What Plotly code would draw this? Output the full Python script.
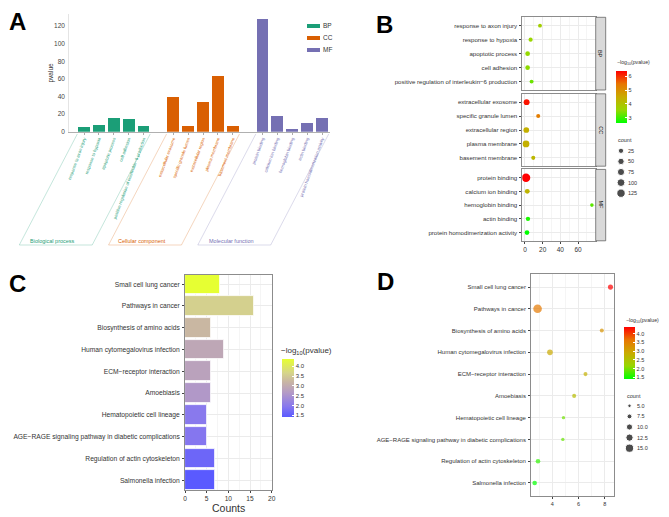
import numpy as np
import plotly.graph_objects as go

W, H = 669, 517
def px(x): return x / W
def py(y): return 1 - y / H

FONT = "Liberation Sans, Arial, sans-serif"
TXT = "#333333"

# ---------------- GO data (panels A and B) ----------------
bp_terms = ["response to axon injury", "response to hypoxia", "apoptotic process",
            "cell adhesion", "positive regulation of interleukin\u22126 production"]
bp_counts = [5, 8, 15, 14, 6]
bp_enrich = [17.0, 6.4, 3.0, 3.0, 7.5]
bp_neglogp = [3.76, 3.6, 3.55, 3.5, 3.3]

cc_terms = ["extracellular exosome", "specific granule lumen", "extracellular region",
            "plasma membrane", "basement membrane"]
cc_counts = [39, 7, 34, 63, 7]
cc_enrich = [1.9, 15.0, 1.5, 1.2, 9.4]
cc_neglogp = [6.2, 5.3, 4.4, 4.4, 4.25]

mf_terms = ["protein binding", "calcium ion binding", "hemoglobin binding",
            "actin binding", "protein homodimerization activity"]
mf_counts = [128, 18, 3, 10, 15]
mf_enrich = [1.2, 2.6, 75.7, 3.4, 2.3]
mf_neglogp = [6.36, 4.3, 3.2, 2.8, 2.64]

go_groups = ["BP", "CC", "MF"]
go_group_names = ["Biological process", "Cellular component", "Molecular function"]
go_colors = ["#1b9e77", "#d95f02", "#7570b3"]
a_positions = [[0, 1, 2, 3, 4], [6, 7, 8, 9, 10], [12, 13, 14, 15, 16]]
b_size_legend = [25, 50, 75, 100, 125]

# ---------------- KEGG data (panels C and D) ----------------
kegg_terms = ["Small cell lung cancer", "Pathways in cancer", "Biosynthesis of amino acids",
              "Human cytomegalovirus infection", "ECM\u2212receptor interaction", "Amoebiasis",
              "Hematopoietic cell lineage",
              "AGE\u2212RAGE signaling pathway in diabetic complications",
              "Regulation of actin cytoskeleton", "Salmonella infection"]
kegg_counts = [8, 16, 6, 9, 6, 6, 5, 5, 7, 7]
kegg_neglogp = [4.36, 3.58, 3.22, 2.9, 2.8, 2.6, 1.95, 1.9, 1.62, 1.40]
kegg_enrich = [8.43, 2.89, 7.77, 3.83, 6.53, 5.67, 4.86, 4.81, 2.92, 2.67]
d_size_legend = [5.0, 7.5, 10.0, 12.5, 15.0]

def diam(c, cmin, cmax, dmin, dmax):
    c = np.asarray(c, dtype=float)
    return dmin + (dmax - dmin) * (np.sqrt(c) - np.sqrt(cmin)) / (np.sqrt(cmax) - np.sqrt(cmin))

B_CMIN, B_CMAX = 3, 128
D_CMIN, D_CMAX = 5, 16

GR_SCALE = [[0, "#00ff00"], [0.25, "#98d700"], [0.5, "#c9ab00"], [0.75, "#e87600"], [1, "#ff0000"]]
BY_SCALE = [[0, "#5a5aff"], [0.18, "#8878ee"], [0.42, "#b49ac6"], [0.6, "#c8b4a5"],
            [0.76, "#d6d58a"], [1, "#e6ff33"]]

fig = go.Figure()
annotations = []
shapes = []

# ======================= Panel A =======================
A_X0, A_X1 = 69, 330          # pixel extent of the A plot area
A_SCALE = 14.875              # px per category unit
A_RANGE = [-(84 - A_X0) / A_SCALE, 16 + (A_X1 - 322) / A_SCALE]
def a_px(v):                  # data -> pixel along A's x axis
    return A_X0 + (v - A_RANGE[0]) * A_SCALE

for g, pos, vals, col in zip(go_groups, a_positions, [bp_counts, cc_counts, mf_counts], go_colors):
    fig.add_trace(go.Bar(x=pos, y=vals, marker=dict(color=col, line=dict(width=0)),
                         width=0.8, xaxis="x", yaxis="y", showlegend=False, name=g))

a_tickvals, a_ticktext = [], []
for pos, terms, col in zip(a_positions, [bp_terms, cc_terms, mf_terms], go_colors):
    a_tickvals += pos
    a_ticktext += [f'<span style="color:{col}">{t}</span>' for t in terms]

SLANT = 58
for pos, name, col in zip(a_positions, go_group_names, go_colors):
    l, r = a_px(pos[0] - 0.45), a_px(pos[-1] + 0.45)
    ytop, ybot = py(134), py(245)
    for xx in (l, r):
        shapes.append(dict(type="line", xref="paper", yref="paper", x0=px(xx), y0=ytop,
                           x1=px(xx - SLANT), y1=ybot, line=dict(color=col, width=0.5), opacity=0.5))
    shapes.append(dict(type="line", xref="paper", yref="paper", x0=px(l - SLANT), y0=ybot,
                       x1=px(r - SLANT), y1=ybot, line=dict(color=col, width=0.5), opacity=0.5))
    annotations.append(dict(x=px((l + r) / 2 - SLANT - 3), y=py(241.3), text=name,
                            font=dict(size=5.5, color=col, family=FONT)))

# legend of panel A (mini bar chart)
fig.add_trace(go.Bar(x=[1, 1, 1], y=go_groups, orientation="h", width=0.36,
                     marker=dict(color=go_colors, line=dict(width=0)),
                     xaxis="x2", yaxis="y2", showlegend=False))

# ======================= Panel B =======================
b_facets = [(bp_terms, bp_counts, bp_enrich, bp_neglogp, "BP", (17.3, 90.0)),
            (cc_terms, cc_counts, cc_enrich, cc_neglogp, "CC", (93.8, 166.2)),
            (mf_terms, mf_counts, mf_enrich, mf_neglogp, "MF", (169.4, 240.8))]
for i, (terms, counts, enr, nlp, lab, dom) in enumerate(b_facets):
    xa, ya = f"x{3+i}", f"y{3+i}"
    fig.add_trace(go.Scatter(x=enr, y=terms, mode="markers",
                             marker=dict(size=diam(counts, B_CMIN, B_CMAX, 3.6, 8.5), color=nlp,
                                         coloraxis="coloraxis", line=dict(width=0), opacity=1),
                             xaxis=xa, yaxis=ya, showlegend=False))
    shapes.append(dict(type="rect", xref="paper", yref="paper", x0=px(595.7), x1=px(605.7),
                       y0=py(dom[1]), y1=py(dom[0]), fillcolor="#d9d9d9",
                       line=dict(color="#555555", width=0.7)))
    annotations.append(dict(x=px(600.7), y=py((dom[0] + dom[1]) / 2),
                            text=lab, textangle=90,
                            font=dict(size=5.5, color="#1a1a1a", family=FONT)))

# B size legend
fig.add_trace(go.Scatter(x=[0] * len(b_size_legend), y=[str(v) for v in b_size_legend], mode="markers",
                         marker=dict(size=diam(b_size_legend, B_CMIN, B_CMAX, 3.6, 8.5), color="black"),
                         xaxis="x6", yaxis="y6", showlegend=False))

# ======================= Panel C =======================
fig.add_trace(go.Bar(x=kegg_counts, y=kegg_terms, orientation="h", width=0.9,
                     marker=dict(color=kegg_neglogp, coloraxis="coloraxis2",
                                 line=dict(color="white", width=0.8)),
                     xaxis="x7", yaxis="y7", showlegend=False))

# ======================= Panel D =======================
fig.add_trace(go.Scatter(x=kegg_enrich, y=kegg_terms, mode="markers",
                         marker=dict(size=diam(kegg_counts, D_CMIN, D_CMAX, 3.4, 8.6), color=kegg_neglogp,
                                     coloraxis="coloraxis3", line=dict(width=0)),
                         xaxis="x8", yaxis="y8", showlegend=False))
fig.add_trace(go.Scatter(x=[0] * len(d_size_legend), y=[f"{v:.1f}" for v in d_size_legend], mode="markers",
                         marker=dict(size=diam(d_size_legend, D_CMIN, D_CMAX, 3.4, 8.6), color="black"),
                         xaxis="x9", yaxis="y9", showlegend=False))

# ---------------- axes ----------------
def hidden(dom, **kw):
    d = dict(domain=dom, showgrid=False, zeroline=False, showline=False, showticklabels=False,
             ticks="", automargin=False, fixedrange=True)
    d.update(kw)
    return d

GRID = "#ebebeb"
MINOR = "#f5f5f5"
BORDER = "#8c8c8c"
layout_axes = {}

# A
layout_axes["xaxis"] = dict(domain=[px(A_X0), px(A_X1)], range=A_RANGE,
                            tickmode="array", tickvals=a_tickvals, ticktext=a_ticktext, tickangle=-70,
                            tickfont=dict(size=4.3, family=FONT), ticks="outside", ticklen=2, tickcolor="#aaaaaa",
                            showline=True, linecolor="#b0b0b0", linewidth=0.8, showgrid=False, zeroline=False,
                            anchor="y", automargin=False)
layout_axes["yaxis"] = dict(domain=[py(131.7), py(14)], range=[0, (131.7 - 14) / 0.8808],
                            tickvals=[0, 20, 40, 60, 80, 100, 120], tickfont=dict(size=6.5, color="#444", family=FONT),
                            ticks="", showline=True, linecolor="#e4e4e4", linewidth=0.6, showgrid=False,
                            zeroline=False, anchor="x", automargin=False, ticklabelstandoff=2)
layout_axes["xaxis2"] = hidden([px(307), px(320)], range=[0, 1], anchor="y2")
layout_axes["yaxis2"] = hidden([py(56), py(20)], type="category", categoryorder="array",
                               categoryarray=go_groups, range=[2.5, -0.5], anchor="x2", side="right",
                               showticklabels=True, ticklabelstandoff=2,
                               tickfont=dict(size=6.5, color=TXT, family=FONT))

# B facets
for i, (terms, counts, enr, nlp, lab, dom) in enumerate(b_facets):
    xa, ya = f"xaxis{3+i}", f"yaxis{3+i}"
    last = i == 2
    ax = dict(domain=[px(522.3), px(595.7)], range=[-3.0, 80.0], anchor=f"y{3+i}",
              tickvals=[0, 20, 40, 60], showticklabels=last, ticks="outside" if last else "",
              ticklen=2, tickcolor="#444", tickfont=dict(size=6.5, color=TXT, family=FONT),
              ticklabelstandoff=0,
              showgrid=True, gridcolor=GRID, gridwidth=0.6,
              minor=dict(tickvals=[10, 30, 50, 70], showgrid=True, gridcolor=MINOR, gridwidth=0.4),
              showline=True, mirror=True, linecolor=BORDER, linewidth=0.8, zeroline=False,
              automargin=False)
    if i:
        ax["matches"] = "x3"
    layout_axes[xa] = ax
    layout_axes[ya] = dict(domain=[py(dom[1]), py(dom[0])], type="category", categoryorder="array",
                           categoryarray=terms, range=[4.6, -0.6], anchor=f"x{3+i}",
                           ticks="outside", ticklen=2, tickcolor="#444", ticklabelstandoff=1,
                           tickfont=dict(size=6.1, color=TXT, family=FONT),
                           showgrid=True, gridcolor=GRID, gridwidth=0.6,
                           showline=True, mirror=True, linecolor=BORDER, linewidth=0.8, zeroline=False,
                           automargin=False)
layout_axes["xaxis6"] = hidden([px(617), px(625)], range=[-1, 1], anchor="y6")
layout_axes["yaxis6"] = hidden([py(198.5), py(145.5)], type="category", categoryorder="array",
                               categoryarray=[str(v) for v in b_size_legend], range=[4.5, -0.5], anchor="x6",
                               side="right", showticklabels=True, ticklabelstandoff=2,
                               tickfont=dict(size=5.5, color=TXT, family=FONT))

# C
layout_axes["xaxis7"] = dict(domain=[px(185), px(271.7)], range=[0, 20], anchor="y7",
                             tickvals=[0, 5, 10, 15, 20], ticks="outside", ticklen=2, tickcolor="#444",
                             ticklabelstandoff=0,
                             tickfont=dict(size=6.6, color=TXT, family=FONT),
                             showgrid=True, gridcolor=GRID, gridwidth=0.6,
                             minor=dict(tickvals=[2.5, 7.5, 12.5, 17.5], showgrid=True, gridcolor=MINOR, gridwidth=0.4),
                             showline=True, mirror=True, linecolor=BORDER, linewidth=0.8, zeroline=False,
                             automargin=False)
layout_axes["yaxis7"] = dict(domain=[py(490), py(275)], type="category", categoryorder="array",
                             categoryarray=kegg_terms, range=[9.45, -0.42], anchor="x7",
                             ticks="outside", ticklen=2, tickcolor="#444", ticklabelstandoff=1,
                             tickfont=dict(size=6.7, color=TXT, family=FONT),
                             showgrid=True, gridcolor=GRID, gridwidth=0.6,
                             showline=True, mirror=True, linecolor=BORDER, linewidth=0.8, zeroline=False,
                             automargin=False)

# D
layout_axes["xaxis8"] = dict(domain=[px(531), px(614.3)], range=[2.39, 8.72], anchor="y8",
                             tickvals=[4, 6, 8], ticks="outside", ticklen=2, tickcolor="#444",
                             ticklabelstandoff=0,
                             tickfont=dict(size=5.5, color=TXT, family=FONT),
                             showgrid=True, gridcolor=GRID, gridwidth=0.6,
                             minor=dict(tickvals=[3, 5, 7], showgrid=True, gridcolor=MINOR, gridwidth=0.4),
                             showline=True, mirror=True, linecolor=BORDER, linewidth=0.8, zeroline=False,
                             automargin=False)
layout_axes["yaxis8"] = dict(domain=[py(496), py(274)], type="category", categoryorder="array",
                             categoryarray=kegg_terms, range=[9.6, -0.6], anchor="x8",
                             ticks="outside", ticklen=2, tickcolor="#444", ticklabelstandoff=1,
                             tickfont=dict(size=6.0, color=TXT, family=FONT),
                             showgrid=True, gridcolor=GRID, gridwidth=0.6,
                             showline=True, mirror=True, linecolor=BORDER, linewidth=0.8, zeroline=False,
                             automargin=False)
layout_axes["xaxis9"] = hidden([px(625), px(634)], range=[-1, 1], anchor="y9")
layout_axes["yaxis9"] = hidden([py(453.5), py(400.5)], type="category", categoryorder="array",
                               categoryarray=[f"{v:.1f}" for v in d_size_legend], range=[4.5, -0.5], anchor="x9",
                               side="right", showticklabels=True, ticklabelstandoff=2,
                               tickfont=dict(size=5.5, color=TXT, family=FONT))

def cbar(x, ytop, length, thick, tickvals, fsize, fmt):
    return dict(x=px(x), xanchor="left", xref="paper", y=py(ytop), yanchor="top", yref="paper",
                len=length, lenmode="pixels", thickness=thick, thicknessmode="pixels",
                xpad=0, ypad=0, outlinewidth=0, tickvals=tickvals, tickformat=fmt,
                ticks="inside", ticklen=2,
                tickcolor="white", tickwidth=0.8, tickfont=dict(size=fsize, color=TXT, family=FONT))

coloraxis = dict(colorscale=GR_SCALE, cmin=min(bp_neglogp + cc_neglogp + mf_neglogp),
                 cmax=max(bp_neglogp + cc_neglogp + mf_neglogp),
                 colorbar=cbar(616, 71, 52, 11, [3, 4, 5, 6], 5.5, "d"))
coloraxis2 = dict(colorscale=BY_SCALE, cmin=min(kegg_neglogp), cmax=max(kegg_neglogp),
                  colorbar=cbar(281.7, 359.3, 58.4, 11.6, [1.5, 2.0, 2.5, 3.0, 3.5, 4.0], 6, ".1f"))
coloraxis3 = dict(colorscale=GR_SCALE, cmin=min(kegg_neglogp), cmax=max(kegg_neglogp),
                  colorbar=cbar(624.3, 327.3, 51.7, 10.7, [1.5, 2.0, 2.5, 3.0, 3.5, 4.0], 5.5, ".1f"))

NLP = "\u2212log<sub>10</sub>(pvalue)"
annotations += [
    dict(x=px(17), y=py(22), text="<b>A</b>", font=dict(size=24, color="black", family=FONT)),
    dict(x=px(384.5), y=py(24), text="<b>B</b>", font=dict(size=24, color="black", family=FONT)),
    dict(x=px(17), y=py(283), text="<b>C</b>", font=dict(size=24, color="black", family=FONT)),
    dict(x=px(385), y=py(281), text="<b>D</b>", font=dict(size=24, color="black", family=FONT)),
    dict(x=px(50.5), y=py(73), text="pvalue", textangle=-90, font=dict(size=6.5, color=TXT, family=FONT)),
    dict(x=px(615), y=py(63), text=NLP, xanchor="left", font=dict(size=5.2, color=TXT, family=FONT)),
    dict(x=px(616), y=py(140), text="count", xanchor="left", font=dict(size=5.5, color=TXT, family=FONT)),
    dict(x=px(279), y=py(351), text=NLP, xanchor="left", font=dict(size=8, color=TXT, family=FONT)),
    dict(x=px(228), y=py(507.5), text="Counts", font=dict(size=10.5, color=TXT, family=FONT)),
    dict(x=px(623.5), y=py(320.5), text=NLP, xanchor="left", font=dict(size=5.2, color=TXT, family=FONT)),
    dict(x=px(624.5), y=py(395.5), text="count", xanchor="left", font=dict(size=5.5, color=TXT, family=FONT)),
]
for a in annotations:
    a.setdefault("xref", "paper")
    a.setdefault("yref", "paper")
    a.setdefault("showarrow", False)
    a.setdefault("xanchor", "center")
    a.setdefault("yanchor", "middle")

fig.update_layout(
    width=W, height=H, autosize=False, template="none",
    margin=dict(l=0, r=0, t=0, b=0, pad=0),
    paper_bgcolor="white", plot_bgcolor="rgba(0,0,0,0)",
    font=dict(family=FONT, color=TXT),
    showlegend=False, bargap=0,
    coloraxis=coloraxis, coloraxis2=coloraxis2, coloraxis3=coloraxis3,
    annotations=annotations, shapes=shapes,
    **layout_axes,
)

fig.write_html("out.html", config={"displayModeBar": False},
               post_script="document.body.style.margin='0';")
